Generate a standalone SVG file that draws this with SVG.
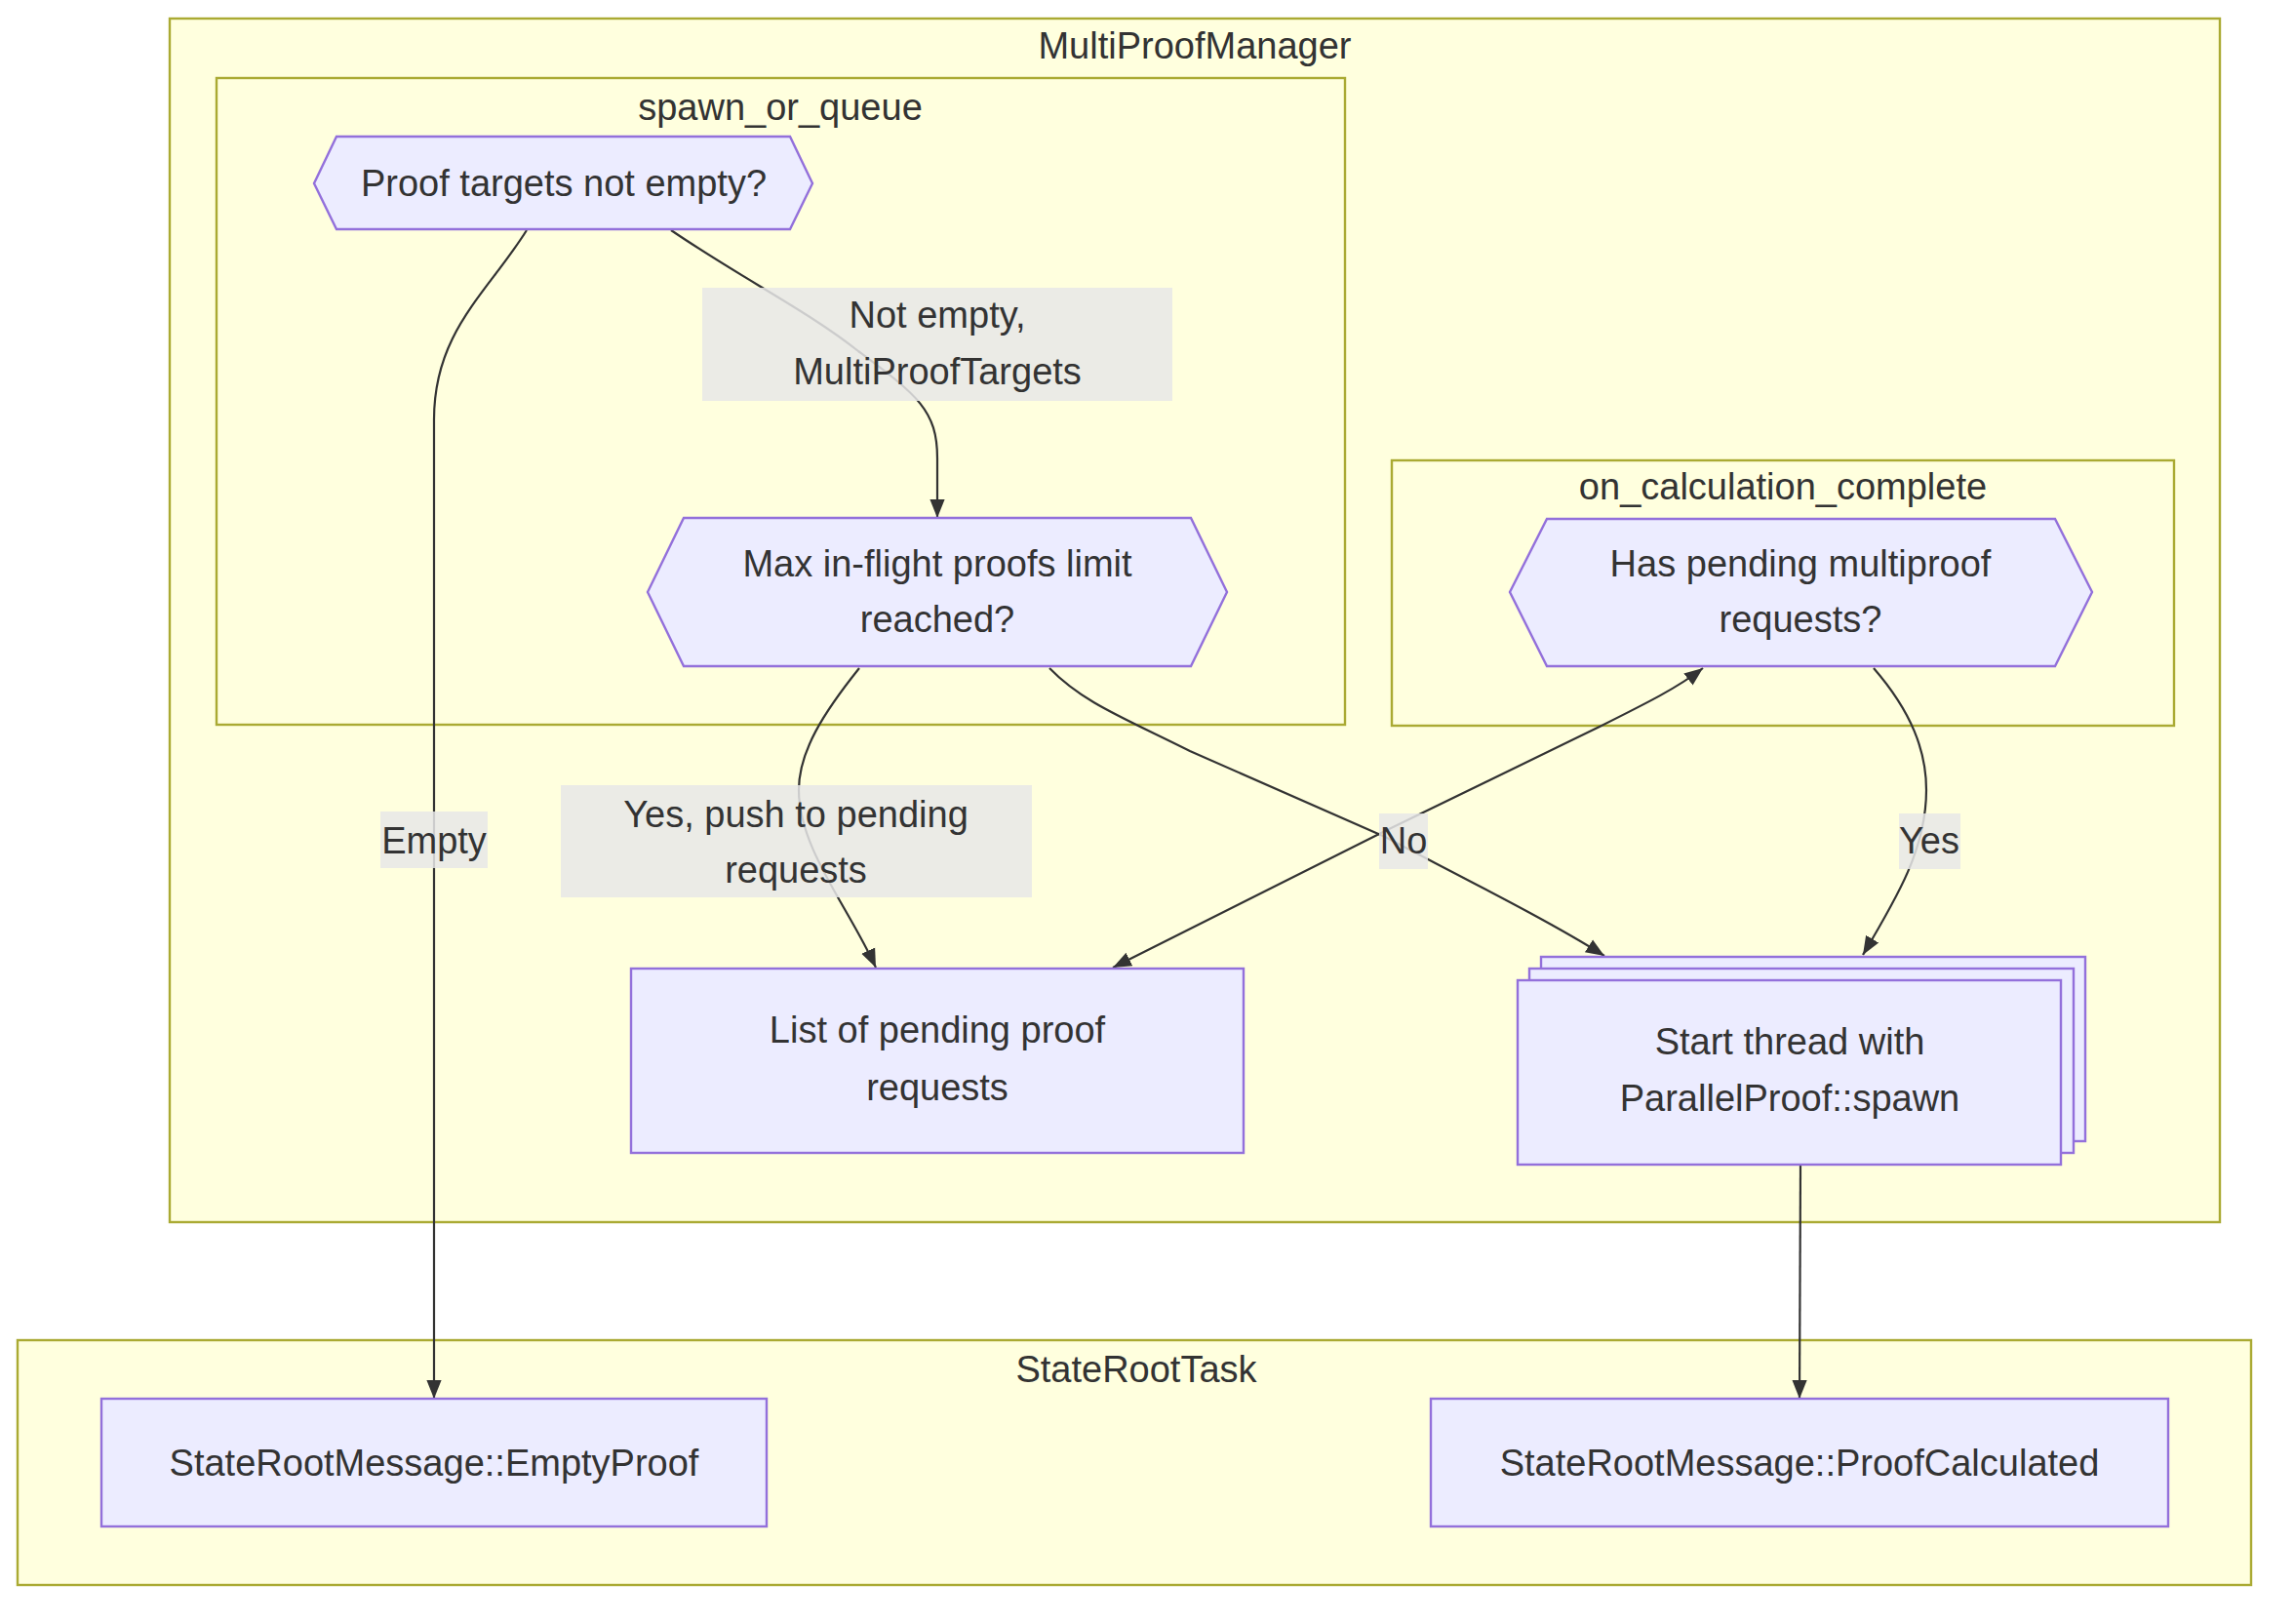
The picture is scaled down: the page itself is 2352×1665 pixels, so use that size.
<svg xmlns="http://www.w3.org/2000/svg" width="2352" height="1665" viewBox="0 0 2352 1665">
<style>
.cluster{fill:#ffffde;stroke:#aaaa33;stroke-width:2.4}
.node{fill:#ececff;stroke:#9370db;stroke-width:2.4}
.t{font-family:"Liberation Sans",Arial,sans-serif;font-size:38px;fill:#333;text-anchor:middle;dominant-baseline:central}
.edge{fill:none;stroke:#333;stroke-width:2.2}
.lbl{fill:#e8e8e8;opacity:0.85}
</style>
<defs>
<marker id="arr" viewBox="0 0 10 10" refX="10" refY="5" markerUnits="userSpaceOnUse" markerWidth="19" markerHeight="19" orient="auto-start-reverse">
<path d="M0,1 L10,5 L0,9 z" fill="#333"/>
</marker>
</defs>
<rect width="2352" height="1665" fill="#ffffff"/>
<g id="clusters">
<g id="MultiProofManager"><rect class="cluster" x="174" y="19" width="2102" height="1234"/><text class="t" x="1225" y="47">MultiProofManager</text></g>
<g id="spawn_or_queue"><rect class="cluster" x="222" y="80" width="1157" height="663"/><text class="t" x="800" y="110">spawn_or_queue</text></g>
<g id="on_calculation_complete"><rect class="cluster" x="1427" y="472" width="802" height="272"/><text class="t" x="1828" y="499">on_calculation_complete</text></g>
<g id="StateRootTask"><rect class="cluster" x="18" y="1374" width="2290" height="251"/><text class="t" x="1165" y="1404">StateRootTask</text></g>
</g>
<g id="edges">
<path class="edge" d="M540,236 C500,300 445,340 445,430 L445,1434" marker-end="url(#arr)"/>
<path class="edge" d="M688,236 C760,285 830,320 880,360 C940,405 961,420 961,470 L961,531" marker-end="url(#arr)"/>
<path class="edge" d="M881,685 C845,730 819,770 819,810 C819,870 870,930 898,992" marker-end="url(#arr)"/>
<path class="edge" d="M1076,685 C1110,720 1150,735 1220,770 L1420,858 C1500,900 1590,945 1645,980" marker-end="url(#arr)"/>
<path class="edge" d="M1141,992 L1420,852 L1640,745 C1690,720 1720,705 1746,685" marker-start="url(#arr)" marker-end="url(#arr)"/>
<path class="edge" d="M1921,685 C1960,730 1975,770 1975,810 C1975,870 1945,920 1910,979" marker-end="url(#arr)"/>
<path class="edge" d="M1846,1194 L1845,1434" marker-end="url(#arr)"/>
</g>
<g id="edge-labels">
<g id="lbl-notempty"><rect class="lbl" x="720" y="295" width="482" height="116"/><text class="t" x="961" y="323">Not empty,</text><text class="t" x="961" y="381">MultiProofTargets</text></g>
<g id="lbl-empty"><rect class="lbl" x="390" y="832" width="110" height="58"/><text class="t" x="445" y="862">Empty</text></g>
<g id="lbl-yespush"><rect class="lbl" x="575" y="805" width="483" height="115"/><text class="t" x="816" y="835">Yes, push to pending</text><text class="t" x="816" y="892">requests</text></g>
<g id="lbl-no"><rect class="lbl" x="1414" y="834" width="50" height="57"/><text class="t" x="1439" y="862">No</text></g>
<g id="lbl-yes"><rect class="lbl" x="1947" y="834" width="63" height="57"/><text class="t" x="1978" y="862">Yes</text></g>
</g>
<g id="proof-targets"><polygon class="node" points="322,188 345,140 810,140 833,188 810,235 345,235"/><text class="t" x="578" y="188">Proof targets not empty?</text></g>
<g id="max-inflight"><polygon class="node" points="664,607 701,531 1221,531 1258,607 1221,683 701,683"/><text class="t" x="961" y="578">Max in-flight proofs limit</text><text class="t" x="961" y="635">reached?</text></g>
<g id="has-pending"><polygon class="node" points="1548,607 1586,532 2107,532 2145,607 2107,683 1586,683"/><text class="t" x="1846" y="578">Has pending multiproof</text><text class="t" x="1846" y="635">requests?</text></g>
<g id="pending-list"><rect class="node" x="647" y="993" width="628" height="189"/><text class="t" x="961" y="1056">List of pending proof</text><text class="t" x="961" y="1115">requests</text></g>
<g id="start-thread"><rect class="node" x="1580" y="981" width="558" height="189"/><rect class="node" x="1568" y="993" width="558" height="189"/><rect class="node" x="1556" y="1005" width="557" height="189"/><text class="t" x="1835" y="1068">Start thread with</text><text class="t" x="1835" y="1126">ParallelProof::spawn</text></g>
<g id="empty-proof"><rect class="node" x="104" y="1434" width="682" height="131"/><text class="t" x="445" y="1500">StateRootMessage::EmptyProof</text></g>
<g id="proof-calculated"><rect class="node" x="1467" y="1434" width="756" height="131"/><text class="t" x="1845" y="1500">StateRootMessage::ProofCalculated</text></g>
</svg>
